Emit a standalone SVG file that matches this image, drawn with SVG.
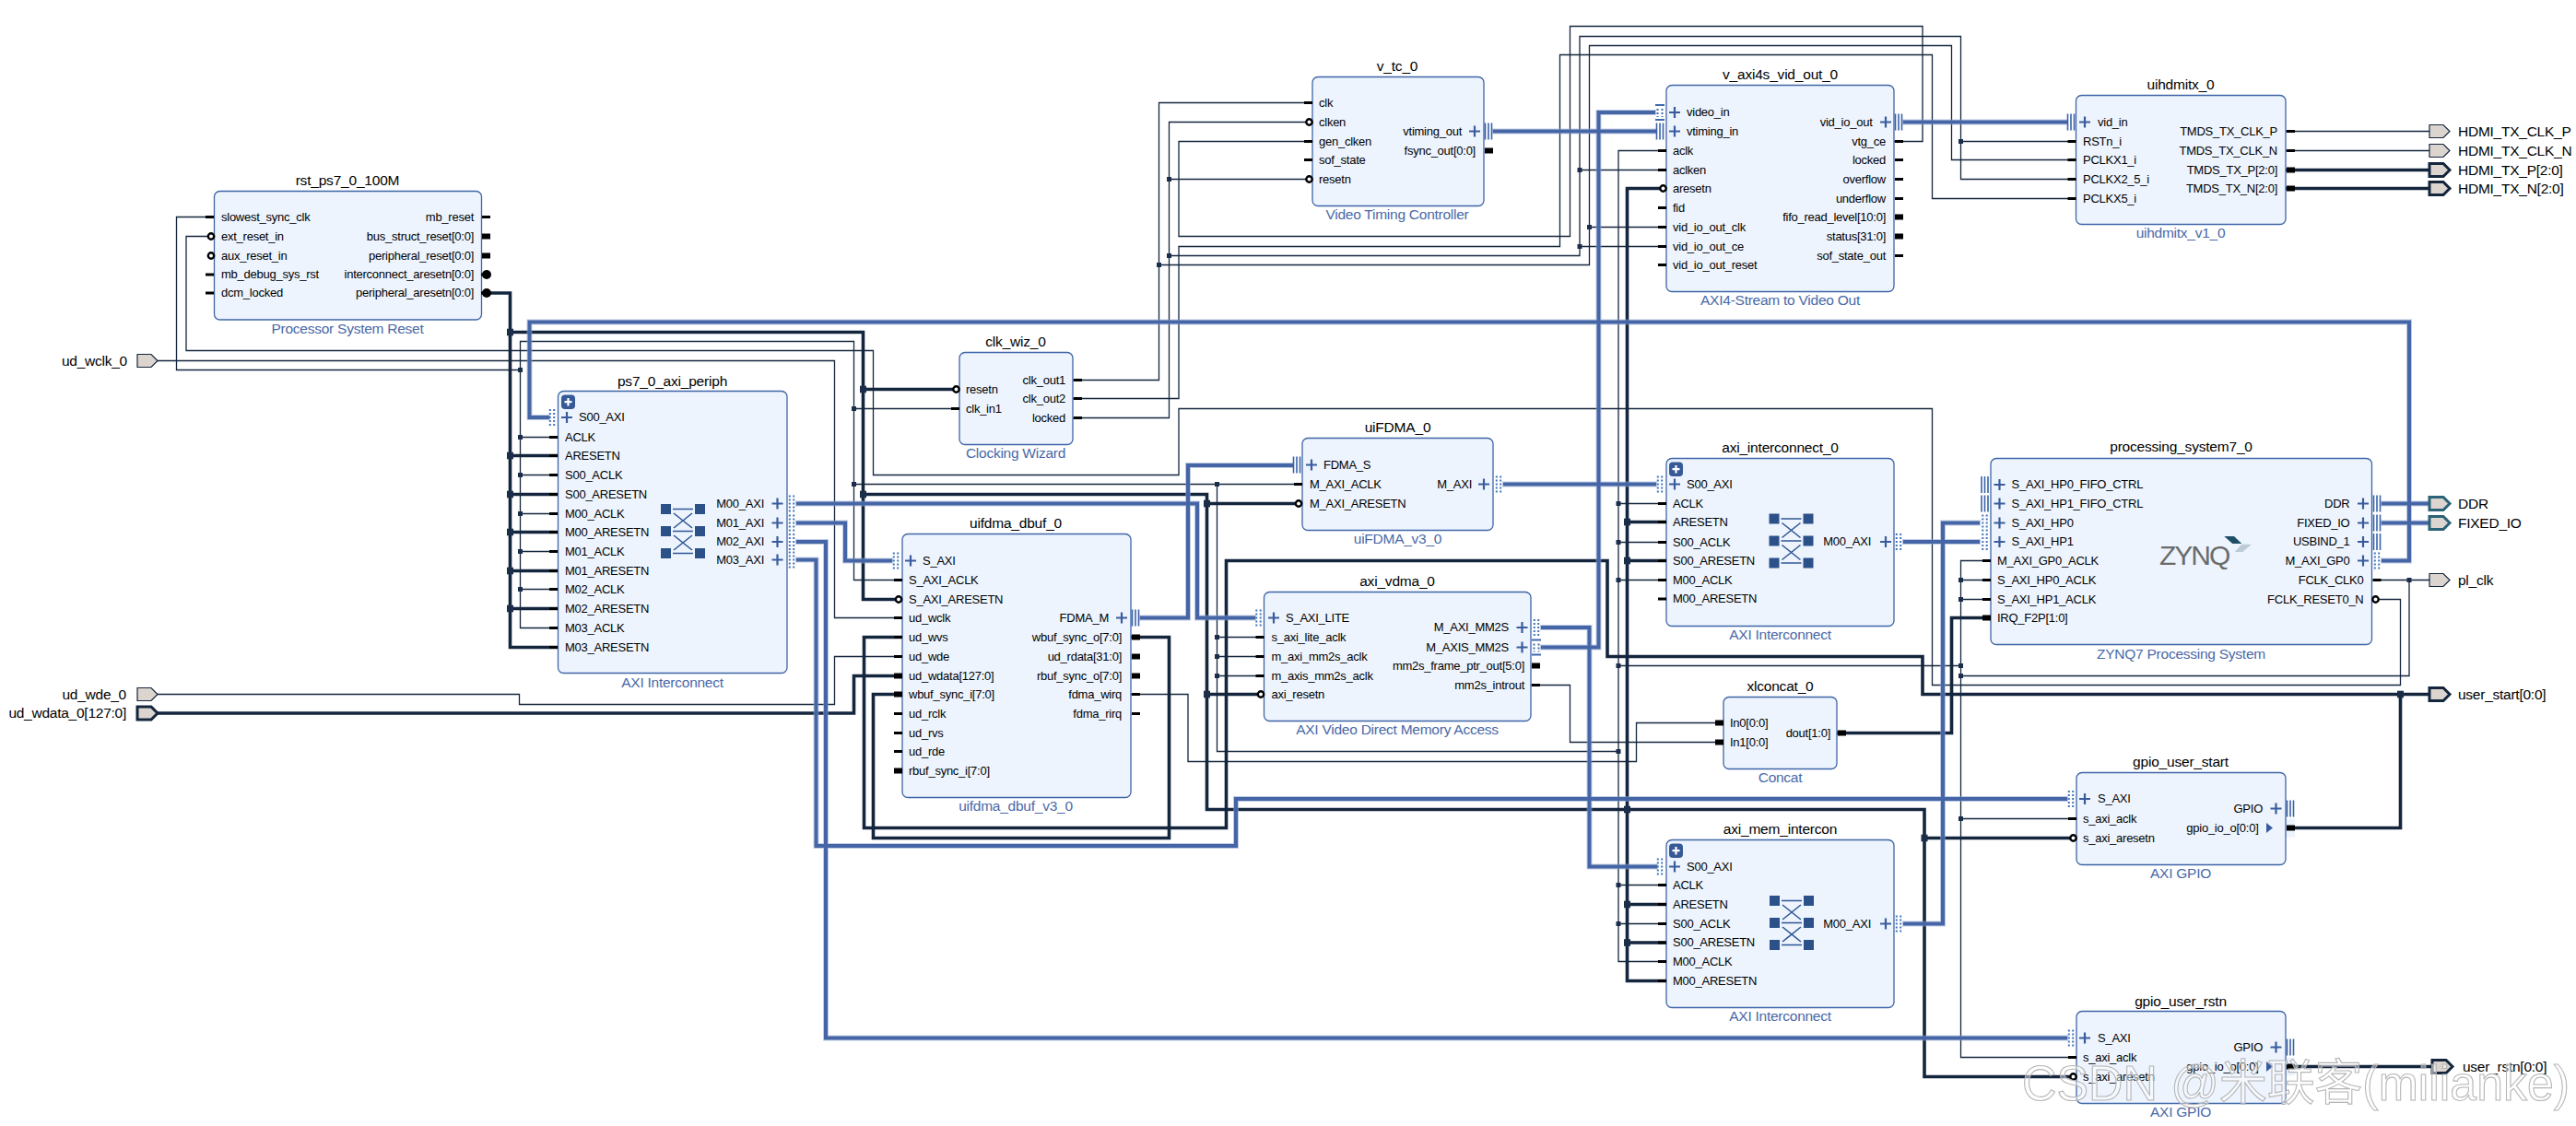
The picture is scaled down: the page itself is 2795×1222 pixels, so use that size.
<svg xmlns="http://www.w3.org/2000/svg" width="2795" height="1222" viewBox="0 0 2795 1222">
<style>
text{font-family:"Liberation Sans","Noto Sans",Arial,sans-serif;fill:#000}
.l,.r{font-size:13px;letter-spacing:-.25px}
.r{text-anchor:end}
.t{font-size:15.5px;letter-spacing:-.2px;text-anchor:middle}
.s{font-size:15.5px;letter-spacing:-.25px;text-anchor:middle;fill:#4a69a8}
.x{font-size:15.5px;letter-spacing:-.25px}
.xr{font-size:15.5px;letter-spacing:-.25px;text-anchor:end}
.box{fill:#edf4fe;stroke:#3f65a7;stroke-width:1.3}
.w{fill:none;stroke:#14263e;stroke-width:1.3}
.h{fill:none;stroke:#14263e;stroke-width:3.6}
.bus{fill:none;stroke:#4465a6;stroke-width:4}
.e{fill:#dcd4ce;stroke:#14263e;stroke-width:1.2}
.E{fill:#dcd4ce;stroke:#14263e;stroke-width:3}
.D{fill:#dcd4ce;stroke:#2a6277;stroke-width:3}
.wm{font-size:53px;fill:#fff;fill-opacity:.45;stroke:#b5b5b5;stroke-width:1.1}
</style>
<defs>
<filter id="halo" filterUnits="userSpaceOnUse" x="0" y="0" width="2795" height="1222">
<feMorphology in="SourceAlpha" operator="dilate" radius="1"/>
<feComponentTransfer result="a"><feFuncA type="linear" slope=".55"/></feComponentTransfer>
<feFlood flood-color="#8aa3cf"/><feComposite in2="a" operator="in" result="c"/>
<feMerge><feMergeNode in="c"/><feMergeNode in="SourceGraphic"/></feMerge>
</filter>
<rect id="p" x="0" y="-1.5" width="9" height="3" fill="#000"/>
<rect id="P" x="0" y="-3" width="9" height="6" fill="#000"/>
<circle id="n" r="3.2" fill="#fff" stroke="#000" stroke-width="2.4"/>
<g id="m"><rect x="0" y="-1.5" width="5" height="3" fill="#000"/><circle cx="6" r="5" fill="#000"/></g>
<rect id="j" x="-2.5" y="-2.5" width="5" height="5" fill="#1a2e4a"/>
<rect id="J" x="-3.5" y="-3.8" width="7" height="7.6" fill="#1a2e4a"/>
<path id="plus" d="M-6 0H6M0-6V6" fill="none" stroke="#3a5c9c" stroke-width="2.2"/>
<g id="tri" fill="none" stroke="#3a62a8" stroke-width="1.6"><path d="M-3.5-9V9M0-9V9M3.5-9V9"/></g>
<g id="dots" fill="none" stroke="#3f74ba" stroke-width="2" stroke-dasharray="2 2"><path d="M-2.2-9V9M2.2-9V9"/></g>
<g id="sd" fill="none" stroke="#3f69ac"><path d="M-5-8H5M-5 8H5" stroke-width="2"/><path d="M-2.5-4V5M2.5-4V5" stroke-width="2" stroke-dasharray="2 2"/></g>
<g id="exp"><rect width="15" height="15.5" rx="4" fill="#375a96"/><path d="M7.5 3.5V12M3.5 7.7H11.5" stroke="#fff" stroke-width="2.2" fill="none"/></g>
<g id="sw" fill="#2c5088"><rect x="-24" y="0" width="11" height="11"/><rect x="13" y="0" width="11" height="11"/><rect x="-24" y="24" width="11" height="11"/><rect x="13" y="24" width="11" height="11"/><rect x="-24" y="48" width="11" height="11"/><rect x="13" y="48" width="11" height="11"/><path d="M-11 5.5H11M-11 29.5H11M-11 53.5H11M-10 10L10 26M10 10L-10 26M-10 34L10 50M10 34L-10 50" fill="none" stroke="#2f5695" stroke-width="1.6"/></g>
<polygon id="ext" points="0,-7 15,-7 22,0 15,7 0,7"/>
</defs>
<rect width="2795" height="1222" fill="#fff"/>

<g id="connectors">
<g id="thin-wires" class="w">
<path d="M2582 629.5H2636"/>
<path d="M2614 629.5V733.5H2127.5"/>
<path d="M2160 608.5H2127.5V1147.5H2253"/>
<path d="M2127.5 629.5H2160M2127.5 650.5H2160M2127.5 888.5H2253"/>
<path d="M1756 722.5H2127.5"/>
<path d="M1808 163.5H1756V1043.5H1808"/>
<path d="M1756 546.5H1808M1756 588.5H1808M1756 629.5H1808M1756 960.5H1808M1756 1002.5H1808"/>
<path d="M1413 525.5H926.5"/>
<path d="M1320.5 525.5V815.5H1756"/>
<path d="M1320.5 691.5H1372M1320.5 712.5H1372M1320.5 733.5H1372"/>
<path d="M605 681.5H564.5V370.5H926.5V629.5H979"/>
<path d="M926.5 443.5H1041"/>
<path d="M564.5 474.5H605M564.5 515.5H605M564.5 557.5H605M564.5 598.5H605M564.5 639.5H605"/>
<path d="M232 235.5H191.5V401.5H564.5"/>
<path d="M2575 650.5H2604.5V743.5H2096.5V443.5H1279V515.5H947.5V380.5H202V256.5H229"/>
<path d="M170 391.5H905.5V670.5H979"/>
<path d="M170 753.5H563.5V764.5H905.5V712.5H979"/>
<path d="M1227 753.5H1289V826.5H1775.5V784.5H1870"/>
<path d="M1661 743.5H1703.5V805.5H1870"/>
<path d="M1164 412.5H1257.5V111.5H1424"/>
<path d="M1257.5 287.5H1724.5V49.5H2117.5V173.5H2253"/>
<path d="M1724.5 246.5H1808"/>
<path d="M1164 432.5H1279V267.5H1692.5V59.5H2096.5V215.5H2253"/>
<path d="M1164 453.5H1268.5V132.5H1424"/>
<path d="M1268.5 194.5H1424"/>
<path d="M1268.5 277.5H1714V39.5H2127.5V194.5H2253"/>
<path d="M2127.5 153.5H2253M1714 184.5H1808M1714 267.5H1808"/>
<path d="M2055 153.5H2086V28.5H1703.5V256.5H1279V153.5H1424"/>
<path d="M2480 142.5H2636M2480 163.5H2636"/>
</g>
<g id="thick-wires" class="h">
<path d="M522 318H553.5V702.5H605"/>
<path d="M553.5 494.5H605M553.5 536.5H605M553.5 577.5H605M553.5 619.5H605M553.5 660.5H605"/>
<path d="M553.5 360.5H936.5V650.5H979"/>
<path d="M936.5 422.5H1041"/>
<path d="M936.5 536.5H1309.5V878.5H2088V1168.5H2253"/>
<path d="M1309.5 546.5H1413M1309.5 753.5H1372M2088 909.5H2253"/>
<path d="M1808 204.5H1765.5V1064.5H1808"/>
<path d="M1765.5 566.5H1808M1765.5 608.5H1808M1765.5 981.5H1808M1765.5 1023H1808"/>
<path d="M979 691.5H937.5V898.5H1330.5V608.5H1744V712.5H2086V753.5H2636"/>
<path d="M2482 898.5H2604.5V753.5"/>
<path d="M1227 691.5H1268.5V909.5H947.5V753.5H979"/>
<path d="M170 774H926.5V733.5H979"/>
<path d="M1993 795.5H2117.5V670.5H2160"/>
<path d="M2480 184.5H2636M2480 204.5H2636"/>
<path d="M2482 1157.5H2640"/>
</g>
<g id="buses" class="bus" filter="url(#halo)">
<path d="M2584 608.5H2614V349.5H574.5V453H596"/>
<path d="M2584 546.5H2636M2584 567.5H2636"/>
<path d="M1620 142.5H1797"/>
<path d="M1672 702.5H1734.5V122H1796"/>
<path d="M2065 132.5H2243"/>
<path d="M1672 681H1724.5V940.5H1798"/>
<path d="M864 546.5H1299V670.5H1362"/>
<path d="M864 567.5H917V608.5H968"/>
<path d="M864 588H896V1126.5H2243"/>
<path d="M864 607.5H885.5V918H1341V867H2243"/>
<path d="M1237 670.5H1289V505H1403"/>
<path d="M1631 525.5H1797"/>
<path d="M2065 588H2148"/>
<path d="M2065 1002.5H2108V567.5H2148"/>
</g>
<g id="junctions">
<use href="#j" x="564.5" y="401.5"/><use href="#j" x="564.5" y="474.5"/><use href="#j" x="564.5" y="515.5"/><use href="#j" x="564.5" y="557.5"/><use href="#j" x="564.5" y="598.5"/><use href="#j" x="564.5" y="639.5"/>
<use href="#J" x="553.5" y="360.5"/><use href="#J" x="553.5" y="494.5"/><use href="#J" x="553.5" y="536.5"/><use href="#J" x="553.5" y="577.5"/><use href="#J" x="553.5" y="619.5"/><use href="#J" x="553.5" y="660.5"/>
<use href="#J" x="936.5" y="422.5"/><use href="#J" x="936.5" y="536.5"/><use href="#j" x="926.5" y="443.5"/><use href="#j" x="926.5" y="525.5"/>
<use href="#j" x="1320.5" y="525.5"/><use href="#j" x="1320.5" y="691.5"/><use href="#j" x="1320.5" y="712.5"/><use href="#j" x="1320.5" y="733.5"/>
<use href="#J" x="1309.5" y="546.5"/><use href="#J" x="1309.5" y="753.5"/>
<use href="#j" x="1268.5" y="194.5"/><use href="#j" x="1268.5" y="277.5"/><use href="#j" x="1257.5" y="287.5"/>
<use href="#j" x="1714" y="184.5"/><use href="#j" x="1714" y="267.5"/><use href="#j" x="1724.5" y="246.5"/><use href="#j" x="2127.5" y="153.5"/>
<use href="#j" x="1756" y="546.5"/><use href="#j" x="1756" y="588.5"/><use href="#j" x="1756" y="629.5"/><use href="#j" x="1756" y="722.5"/><use href="#j" x="1756" y="815.5"/><use href="#j" x="1756" y="960.5"/><use href="#j" x="1756" y="1002.5"/>
<use href="#J" x="1765.5" y="566.5"/><use href="#J" x="1765.5" y="608.5"/><use href="#J" x="1765.5" y="878.5"/><use href="#J" x="1765.5" y="981.5"/><use href="#J" x="1765.5" y="1023"/>
<use href="#j" x="2127.5" y="629.5"/><use href="#j" x="2127.5" y="650.5"/><use href="#j" x="2127.5" y="722.5"/><use href="#j" x="2127.5" y="733.5"/><use href="#j" x="2127.5" y="888.5"/>
<use href="#j" x="2614" y="629.5"/><use href="#J" x="2604.5" y="753.5"/><use href="#J" x="2088" y="909.5"/>
</g>
</g>

<g id="rst_ps7_0_100M">
<rect class="box" x="232.5" y="207.5" width="290" height="139.5" rx="6"/>
<text class="t" x="377" y="201">rst_ps7_0_100M</text><text class="s" x="377" y="362">Processor System Reset</text>
<use href="#p" x="223" y="235.5"/><use href="#n" x="229" y="256.5"/><use href="#n" x="229" y="277.5"/><use href="#p" x="223" y="298"/><use href="#p" x="223" y="318"/>
<text class="l" x="240" y="239.5">slowest_sync_clk</text><text class="l" x="240" y="260.5">ext_reset_in</text><text class="l" x="240" y="281.5">aux_reset_in</text><text class="l" x="240" y="302">mb_debug_sys_rst</text><text class="l" x="240" y="322">dcm_locked</text>
<text class="r" x="514" y="239.5">mb_reset</text><text class="r" x="514" y="260.5">bus_struct_reset[0:0]</text><text class="r" x="514" y="281.5">peripheral_reset[0:0]</text><text class="r" x="514" y="302">interconnect_aresetn[0:0]</text><text class="r" x="514" y="322">peripheral_aresetn[0:0]</text>
<use href="#p" x="523" y="235.5"/><use href="#P" x="523" y="256.5"/><use href="#P" x="523" y="277.5"/><use href="#m" x="522" y="298"/><use href="#m" x="522" y="318"/>
</g>

<g id="ud_wclk_0"><use href="#ext" class="e" x="149" y="391.5"/><text class="xr" x="138" y="396.5">ud_wclk_0</text></g>
<g id="ud_wde_0"><use href="#ext" class="e" x="149" y="753.5"/><text class="xr" x="137" y="758.5">ud_wde_0</text></g>
<g id="ud_wdata_0"><use href="#ext" class="E" x="149" y="774"/><text class="xr" x="137" y="779">ud_wdata_0[127:0]</text></g>

<g id="ps7_0_axi_periph">
<rect class="box" x="605.5" y="424.5" width="248.5" height="306" rx="6"/>
<text class="t" x="729.5" y="419">ps7_0_axi_periph</text><text class="s" x="729.5" y="746">AXI Interconnect</text>
<use href="#exp" x="609" y="428.5"/><use href="#dots" x="599" y="453"/><use href="#plus" x="615" y="453"/>
<text class="l" x="628" y="457">S00_AXI</text>
<use href="#p" x="596" y="474.5"/><use href="#p" x="596" y="494.5"/><use href="#p" x="596" y="515.5"/><use href="#p" x="596" y="536.5"/><use href="#p" x="596" y="557.5"/><use href="#p" x="596" y="577.5"/><use href="#p" x="596" y="598.5"/><use href="#p" x="596" y="619.5"/><use href="#p" x="596" y="639.5"/><use href="#p" x="596" y="660.5"/><use href="#p" x="596" y="681.5"/><use href="#p" x="596" y="702.5"/>
<text class="l" x="613" y="478.5">ACLK</text><text class="l" x="613" y="498.5">ARESETN</text><text class="l" x="613" y="519.5">S00_ACLK</text><text class="l" x="613" y="540.5">S00_ARESETN</text><text class="l" x="613" y="561.5">M00_ACLK</text><text class="l" x="613" y="581.5">M00_ARESETN</text><text class="l" x="613" y="602.5">M01_ACLK</text><text class="l" x="613" y="623.5">M01_ARESETN</text><text class="l" x="613" y="643.5">M02_ACLK</text><text class="l" x="613" y="664.5">M02_ARESETN</text><text class="l" x="613" y="685.5">M03_ACLK</text><text class="l" x="613" y="706.5">M03_ARESETN</text>
<text class="r" x="829" y="550.5">M00_AXI</text><text class="r" x="829" y="571.5">M01_AXI</text><text class="r" x="829" y="592">M02_AXI</text><text class="r" x="829" y="611.5">M03_AXI</text>
<use href="#plus" x="843.5" y="546.5"/><use href="#plus" x="843.5" y="567.5"/><use href="#plus" x="843.5" y="588"/><use href="#plus" x="843.5" y="607.5"/>
<use href="#dots" x="859" y="546.5"/><use href="#dots" x="859" y="567.5"/><use href="#dots" x="859" y="588"/><use href="#dots" x="859" y="607.5"/>
<use href="#sw" x="741" y="547"/>
</g>

<g id="clk_wiz_0">
<rect class="box" x="1041" y="382.5" width="123" height="100" rx="6"/>
<text class="t" x="1102" y="376">clk_wiz_0</text><text class="s" x="1102" y="497">Clocking Wizard</text>
<use href="#n" x="1037.5" y="422.5"/><use href="#p" x="1032" y="443.5"/>
<text class="l" x="1048" y="426.5">resetn</text><text class="l" x="1048" y="447.5">clk_in1</text>
<text class="r" x="1156" y="416.5">clk_out1</text><text class="r" x="1156" y="436.5">clk_out2</text><text class="r" x="1156" y="457.5">locked</text>
<use href="#p" x="1165" y="412.5"/><use href="#p" x="1165" y="432.5"/><use href="#p" x="1165" y="453.5"/>
</g>

<g id="v_tc_0">
<rect class="box" x="1424" y="83.5" width="186" height="140" rx="6"/>
<text class="t" x="1516" y="77">v_tc_0</text><text class="s" x="1516" y="238">Video Timing Controller</text>
<use href="#p" x="1415" y="111.5"/><use href="#n" x="1420.5" y="132.5"/><use href="#p" x="1415" y="153.5"/><use href="#p" x="1415" y="173.5"/><use href="#n" x="1420.5" y="194.5"/>
<text class="l" x="1431" y="115.5">clk</text><text class="l" x="1431" y="136.5">clken</text><text class="l" x="1431" y="157.5">gen_clken</text><text class="l" x="1431" y="177.5">sof_state</text><text class="l" x="1431" y="198.5">resetn</text>
<text class="r" x="1586" y="146.5">vtiming_out</text><text class="r" x="1601" y="167.5">fsync_out[0:0]</text>
<use href="#plus" x="1600" y="142.5"/><use href="#tri" x="1615" y="142.5"/><use href="#P" x="1611" y="163.5"/>
</g>

<g id="v_axi4s_vid_out_0">
<rect class="box" x="1808" y="92.5" width="247" height="224" rx="6"/>
<text class="t" x="1931.5" y="86">v_axi4s_vid_out_0</text><text class="s" x="1931.5" y="331">AXI4-Stream to Video Out</text>
<use href="#sd" x="1801" y="122"/><use href="#tri" x="1801" y="142.5"/><use href="#plus" x="1817" y="122"/><use href="#plus" x="1817" y="142.5"/>
<text class="l" x="1830" y="126">video_in</text><text class="l" x="1830" y="146.5">vtiming_in</text>
<use href="#p" x="1799" y="163.5"/><use href="#p" x="1799" y="184.5"/><use href="#n" x="1804.5" y="204.5"/><use href="#p" x="1799" y="225.5"/><use href="#p" x="1799" y="246.5"/><use href="#p" x="1799" y="267.5"/><use href="#p" x="1799" y="287.5"/>
<text class="l" x="1815" y="167.5">aclk</text><text class="l" x="1815" y="188.5">aclken</text><text class="l" x="1815" y="208.5">aresetn</text><text class="l" x="1815" y="229.5">fid</text><text class="l" x="1815" y="250.5">vid_io_out_clk</text><text class="l" x="1815" y="271.5">vid_io_out_ce</text><text class="l" x="1815" y="291.5">vid_io_out_reset</text>
<text class="r" x="2031.5" y="136.5">vid_io_out</text><text class="r" x="2046" y="157.5">vtg_ce</text><text class="r" x="2046" y="177.5">locked</text><text class="r" x="2046" y="198.5">overflow</text><text class="r" x="2046" y="219.5">underflow</text><text class="r" x="2046" y="239.5">fifo_read_level[10:0]</text><text class="r" x="2046" y="260.5">status[31:0]</text><text class="r" x="2046" y="281.5">sof_state_out</text>
<use href="#plus" x="2046" y="132.5"/><use href="#tri" x="2060" y="132.5"/>
<use href="#p" x="2056" y="153.5"/><use href="#p" x="2056" y="173.5"/><use href="#p" x="2056" y="194.5"/><use href="#p" x="2056" y="215.5"/><use href="#P" x="2056" y="235.5"/><use href="#P" x="2056" y="256.5"/><use href="#p" x="2056" y="277.5"/>
</g>

<g id="uihdmitx_0">
<rect class="box" x="2252.5" y="103.5" width="227.5" height="140" rx="6"/>
<text class="t" x="2366" y="97">uihdmitx_0</text><text class="s" x="2366" y="258">uihdmitx_v1_0</text>
<use href="#tri" x="2247" y="132.5"/><use href="#plus" x="2262" y="132.5"/><text class="l" x="2276" y="136.5">vid_in</text>
<use href="#p" x="2243.5" y="153.5"/><use href="#p" x="2243.5" y="173.5"/><use href="#p" x="2243.5" y="194.5"/><use href="#p" x="2243.5" y="215.5"/>
<text class="l" x="2260" y="157.5">RSTn_i</text><text class="l" x="2260" y="177.5">PCLKX1_i</text><text class="l" x="2260" y="198.5">PCLKX2_5_i</text><text class="l" x="2260" y="219.5">PCLKX5_i</text>
<text class="r" x="2471" y="146.5">TMDS_TX_CLK_P</text><text class="r" x="2471" y="167.5">TMDS_TX_CLK_N</text><text class="r" x="2471" y="188.5">TMDS_TX_P[2:0]</text><text class="r" x="2471" y="208.5">TMDS_TX_N[2:0]</text>
<use href="#p" x="2481" y="142.5"/><use href="#p" x="2481" y="163.5"/><use href="#P" x="2481" y="184.5"/><use href="#P" x="2481" y="204.5"/>
</g>

<g id="HDMI_TX_CLK_P"><use href="#ext" class="e" x="2636" y="142.5"/><text class="x" x="2667" y="147.5">HDMI_TX_CLK_P</text></g>
<g id="HDMI_TX_CLK_N"><use href="#ext" class="e" x="2636" y="163.5"/><text class="x" x="2667" y="168.5">HDMI_TX_CLK_N</text></g>
<g id="HDMI_TX_P"><use href="#ext" class="E" x="2636" y="184.5"/><text class="x" x="2667" y="189.5">HDMI_TX_P[2:0]</text></g>
<g id="HDMI_TX_N"><use href="#ext" class="E" x="2636" y="204.5"/><text class="x" x="2667" y="209.5">HDMI_TX_N[2:0]</text></g>
<g id="DDR"><use href="#ext" class="D" x="2636" y="546.5"/><text class="x" x="2667" y="551.5">DDR</text></g>
<g id="FIXED_IO"><use href="#ext" class="D" x="2636" y="567.5"/><text class="x" x="2667" y="572.5">FIXED_IO</text></g>
<g id="pl_clk"><use href="#ext" class="e" x="2636" y="629.5"/><text class="x" x="2667" y="634.5">pl_clk</text></g>
<g id="user_start"><use href="#ext" class="E" x="2636" y="753.5"/><text class="x" x="2667" y="758.5">user_start[0:0]</text></g>
<g id="user_rstn"><use href="#ext" class="E" x="2639" y="1157.5"/><text class="x" x="2672" y="1162.5">user_rstn[0:0]</text></g>

<g id="uiFDMA_0">
<rect class="box" x="1413" y="475.5" width="207" height="100" rx="6"/>
<text class="t" x="1516.5" y="469">uiFDMA_0</text><text class="s" x="1516.5" y="590">uiFDMA_v3_0</text>
<use href="#tri" x="1407" y="504.5"/><use href="#plus" x="1423" y="504.5"/><text class="l" x="1436" y="508.5">FDMA_S</text>
<use href="#p" x="1404" y="525.5"/><use href="#n" x="1409" y="546.5"/>
<text class="l" x="1421" y="529.5">M_AXI_ACLK</text><text class="l" x="1421" y="550.5">M_AXI_ARESETN</text>
<text class="r" x="1597" y="529.5">M_AXI</text><use href="#plus" x="1610" y="525.5"/><use href="#dots" x="1626" y="525.5"/>
</g>

<g id="uifdma_dbuf_0">
<rect class="box" x="979" y="579.5" width="248" height="286" rx="6"/>
<text class="t" x="1102" y="573">uifdma_dbuf_0</text><text class="s" x="1102" y="880">uifdma_dbuf_v3_0</text>
<use href="#dots" x="972" y="608.5"/><use href="#plus" x="988" y="608.5"/><text class="l" x="1001" y="612.5">S_AXI</text>
<use href="#p" x="970" y="629.5"/><use href="#n" x="975" y="650.5"/><use href="#p" x="970" y="670.5"/><use href="#p" x="970" y="691.5"/><use href="#p" x="970" y="712.5"/><use href="#P" x="970" y="733.5"/><use href="#P" x="970" y="753.5"/><use href="#p" x="970" y="774.5"/><use href="#p" x="970" y="795.5"/><use href="#p" x="970" y="815.5"/><use href="#P" x="970" y="836.5"/>
<text class="l" x="986" y="633.5">S_AXI_ACLK</text><text class="l" x="986" y="654.5">S_AXI_ARESETN</text><text class="l" x="986" y="674.5">ud_wclk</text><text class="l" x="986" y="695.5">ud_wvs</text><text class="l" x="986" y="716.5">ud_wde</text><text class="l" x="986" y="737.5">ud_wdata[127:0]</text><text class="l" x="986" y="757.5">wbuf_sync_i[7:0]</text><text class="l" x="986" y="778.5">ud_rclk</text><text class="l" x="986" y="799.5">ud_rvs</text><text class="l" x="986" y="819.5">ud_rde</text><text class="l" x="986" y="840.5">rbuf_sync_i[7:0]</text>
<text class="r" x="1203" y="674.5">FDMA_M</text><use href="#plus" x="1217" y="670.5"/><use href="#tri" x="1232" y="670.5"/>
<text class="r" x="1217" y="695.5">wbuf_sync_o[7:0]</text><text class="r" x="1217" y="716.5">ud_rdata[31:0]</text><text class="r" x="1217" y="737.5">rbuf_sync_o[7:0]</text><text class="r" x="1217" y="757.5">fdma_wirq</text><text class="r" x="1217" y="778.5">fdma_rirq</text>
<use href="#P" x="1228" y="691.5"/><use href="#P" x="1228" y="712.5"/><use href="#P" x="1228" y="733.5"/><use href="#p" x="1228" y="753.5"/><use href="#p" x="1228" y="774.5"/>
</g>

<g id="axi_vdma_0">
<rect class="box" x="1371.5" y="642.5" width="289.5" height="140" rx="6"/>
<text class="t" x="1516" y="636">axi_vdma_0</text><text class="s" x="1516" y="797">AXI Video Direct Memory Access</text>
<use href="#dots" x="1365.5" y="670.5"/><use href="#plus" x="1382" y="670.5"/><text class="l" x="1395" y="674.5">S_AXI_LITE</text>
<use href="#p" x="1362.5" y="691.5"/><use href="#p" x="1362.5" y="712.5"/><use href="#p" x="1362.5" y="733.5"/><use href="#n" x="1368" y="753.5"/>
<text class="l" x="1379.5" y="695.5">s_axi_lite_aclk</text><text class="l" x="1379.5" y="716.5">m_axi_mm2s_aclk</text><text class="l" x="1379.5" y="737.5">m_axis_mm2s_aclk</text><text class="l" x="1379.5" y="757.5">axi_resetn</text>
<text class="r" x="1637" y="685">M_AXI_MM2S</text><text class="r" x="1637" y="706.5">M_AXIS_MM2S</text><text class="r" x="1654" y="726.5">mm2s_frame_ptr_out[5:0]</text><text class="r" x="1654" y="747.5">mm2s_introut</text>
<use href="#plus" x="1651.5" y="681"/><use href="#plus" x="1651.5" y="702.5"/><use href="#dots" x="1667" y="681"/><use href="#sd" x="1667" y="702.5"/>
<use href="#P" x="1662" y="722.5"/><use href="#p" x="1662" y="743.5"/>
</g>

<g id="axi_interconnect_0">
<rect class="box" x="1808" y="497.5" width="247" height="182" rx="6"/>
<text class="t" x="1931.5" y="491">axi_interconnect_0</text><text class="s" x="1931.5" y="694">AXI Interconnect</text>
<use href="#exp" x="1811" y="501.5"/><use href="#dots" x="1801" y="525.5"/><use href="#plus" x="1817" y="525.5"/><text class="l" x="1830" y="529.5">S00_AXI</text>
<use href="#p" x="1799" y="546.5"/><use href="#p" x="1799" y="566.5"/><use href="#p" x="1799" y="588.5"/><use href="#p" x="1799" y="608.5"/><use href="#p" x="1799" y="629.5"/><use href="#p" x="1799" y="650"/>
<text class="l" x="1815" y="550.5">ACLK</text><text class="l" x="1815" y="570.5">ARESETN</text><text class="l" x="1815" y="592.5">S00_ACLK</text><text class="l" x="1815" y="612.5">S00_ARESETN</text><text class="l" x="1815" y="633.5">M00_ACLK</text><text class="l" x="1815" y="654">M00_ARESETN</text>
<text class="r" x="2030" y="592">M00_AXI</text><use href="#plus" x="2046" y="588"/><use href="#dots" x="2060" y="588"/>
<use href="#sw" x="1943.5" y="557.5"/>
</g>

<g id="processing_system7_0">
<rect class="box" x="2160" y="497.5" width="413.5" height="202" rx="6"/>
<text class="t" x="2366.5" y="490">processing_system7_0</text><text class="s" x="2366.5" y="715">ZYNQ7 Processing System</text>
<use href="#tri" x="2153.5" y="526"/><use href="#tri" x="2153.5" y="546.5"/><use href="#dots" x="2153.5" y="567.5"/><use href="#dots" x="2153.5" y="588"/>
<use href="#plus" x="2169.5" y="526"/><use href="#plus" x="2169.5" y="546.5"/><use href="#plus" x="2169.5" y="567.5"/><use href="#plus" x="2169.5" y="588"/>
<text class="l" x="2182.5" y="530">S_AXI_HP0_FIFO_CTRL</text><text class="l" x="2182.5" y="550.5">S_AXI_HP1_FIFO_CTRL</text><text class="l" x="2182.5" y="571.5">S_AXI_HP0</text><text class="l" x="2182.5" y="592">S_AXI_HP1</text>
<use href="#p" x="2151" y="608.5"/><use href="#p" x="2151" y="629.5"/><use href="#p" x="2151" y="650.5"/><use href="#P" x="2151" y="670.5"/>
<text class="l" x="2167" y="612.5">M_AXI_GP0_ACLK</text><text class="l" x="2167" y="633.5">S_AXI_HP0_ACLK</text><text class="l" x="2167" y="654.5">S_AXI_HP1_ACLK</text><text class="l" x="2167" y="674.5">IRQ_F2P[1:0]</text>
<text class="r" x="2549.5" y="550.5">DDR</text><text class="r" x="2549.5" y="571.5">FIXED_IO</text><text class="r" x="2549.5" y="592">USBIND_1</text><text class="r" x="2549.5" y="612.5">M_AXI_GP0</text>
<use href="#plus" x="2564" y="546.5"/><use href="#plus" x="2564" y="567.5"/><use href="#plus" x="2564" y="588"/><use href="#plus" x="2564" y="608.5"/>
<use href="#tri" x="2579" y="546.5"/><use href="#tri" x="2579" y="567.5"/><use href="#tri" x="2579" y="588"/><use href="#dots" x="2579" y="608.5"/>
<text class="r" x="2564.5" y="633.5">FCLK_CLK0</text><text class="r" x="2564.5" y="654.5">FCLK_RESET0_N</text>
<use href="#p" x="2574.5" y="629.5"/><use href="#n" x="2577.5" y="650.5"/>
<text x="2343" y="612.5" style="font-size:30px;letter-spacing:-2px;fill:#6b6b6b">ZYNQ</text>
<polygon points="2413.3,582 2424,582 2432.3,590 2422.3,590" fill="#1d5068"/>
<polygon points="2432.3,590.7 2443,590.7 2433.3,599 2424.7,599" fill="#bccbd5"/>
</g>

<g id="xlconcat_0">
<rect class="box" x="1870" y="756.5" width="123" height="78" rx="6"/>
<text class="t" x="1931.5" y="750">xlconcat_0</text><text class="s" x="1931.5" y="849">Concat</text>
<use href="#P" x="1861" y="784.5"/><use href="#P" x="1861" y="805.5"/>
<text class="l" x="1877" y="788.5">In0[0:0]</text><text class="l" x="1877" y="809.5">In1[0:0]</text>
<text class="r" x="1986" y="799.5">dout[1:0]</text><use href="#P" x="1994" y="795.5"/>
</g>

<g id="gpio_user_start">
<rect x="2480" y="888.5" width="10" height="20" fill="#edf4fe"/>
<rect class="box" x="2253" y="838.5" width="227" height="100" rx="6"/>
<text class="t" x="2366" y="832">gpio_user_start</text><text class="s" x="2366" y="953">AXI GPIO</text>
<use href="#dots" x="2247" y="867"/><use href="#plus" x="2262" y="867"/><text class="l" x="2276" y="871">S_AXI</text>
<use href="#p" x="2244" y="888.5"/><use href="#n" x="2249.5" y="909.5"/>
<text class="l" x="2260" y="892.5">s_axi_aclk</text><text class="l" x="2260" y="913.5">s_axi_aresetn</text>
<text class="r" x="2455" y="881.5">GPIO</text><use href="#plus" x="2469.5" y="877.5"/><use href="#tri" x="2485" y="877.5"/>
<text class="r" x="2450.5" y="902.5">gpio_io_o[0:0]</text><polygon points="2459,893 2466,898.5 2459,904" fill="#3a5c9c"/><use href="#P" x="2481" y="898.5"/>
</g>

<g id="axi_mem_intercon">
<rect class="box" x="1808" y="911.5" width="247" height="182" rx="6"/>
<text class="t" x="1931.5" y="905">axi_mem_intercon</text><text class="s" x="1931.5" y="1108">AXI Interconnect</text>
<use href="#exp" x="1811" y="915.5"/><use href="#dots" x="1801" y="940.5"/><use href="#plus" x="1817" y="940.5"/><text class="l" x="1830" y="944.5">S00_AXI</text>
<use href="#p" x="1799" y="960.5"/><use href="#p" x="1799" y="981.5"/><use href="#p" x="1799" y="1002.5"/><use href="#p" x="1799" y="1023"/><use href="#p" x="1799" y="1043.5"/><use href="#p" x="1799" y="1064.5"/>
<text class="l" x="1815" y="964.5">ACLK</text><text class="l" x="1815" y="985.5">ARESETN</text><text class="l" x="1815" y="1006.5">S00_ACLK</text><text class="l" x="1815" y="1027">S00_ARESETN</text><text class="l" x="1815" y="1047.5">M00_ACLK</text><text class="l" x="1815" y="1068.5">M00_ARESETN</text>
<text class="r" x="2030" y="1006.5">M00_AXI</text><use href="#plus" x="2046" y="1002.5"/><use href="#dots" x="2060" y="1002.5"/>
<use href="#sw" x="1944" y="972"/>
</g>

<g id="gpio_user_rstn">
<rect x="2480" y="1147.5" width="10" height="20" fill="#edf4fe"/>
<rect class="box" x="2253" y="1097.5" width="227" height="100" rx="6"/>
<text class="t" x="2366" y="1092">gpio_user_rstn</text><text class="s" x="2366" y="1212">AXI GPIO</text>
<use href="#dots" x="2247" y="1126.5"/><use href="#plus" x="2262" y="1126.5"/><text class="l" x="2276" y="1130.5">S_AXI</text>
<use href="#p" x="2244" y="1147.5"/><use href="#n" x="2249.5" y="1168.5"/>
<text class="l" x="2260" y="1151.5">s_axi_aclk</text><text class="l" x="2260" y="1172.5">s_axi_aresetn</text>
<text class="r" x="2455" y="1140.5">GPIO</text><use href="#plus" x="2469.5" y="1136.5"/><use href="#tri" x="2485" y="1136.5"/>
<text class="r" x="2450.5" y="1161.5">gpio_io_o[0:0]</text><polygon points="2459,1152 2466,1157.5 2459,1163" fill="#3a5c9c"/><use href="#P" x="2481" y="1157.5"/>
</g>

<text class="wm" x="2194" y="1194" textLength="594" lengthAdjust="spacingAndGlyphs" style="font-family:'Liberation Sans','Noto Sans CJK SC',sans-serif">CSDN @米联客(milianke)</text>
</svg>
